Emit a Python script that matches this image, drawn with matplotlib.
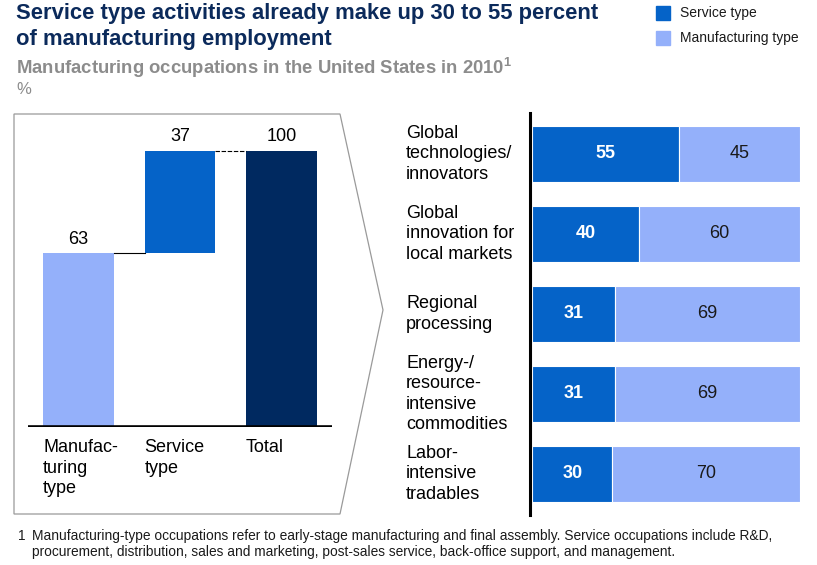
import matplotlib
matplotlib.use("Agg")
import matplotlib.pyplot as plt
from matplotlib.patches import Polygon, Rectangle
from matplotlib.lines import Line2D

plt.rcParams['font.family'] = ['Liberation Sans', 'DejaVu Sans']

# --- data ---
wf_labels = ["Manufac-\nturing\ntype", "Service\ntype", "Total"]
wf_values = [63, 37, 100]

sectors = ["Global\ntechnologies/\ninnovators",
           "Global\ninnovation for\nlocal markets",
           "Regional\nprocessing",
           "Energy-/\nresource-\nintensive\ncommodities",
           "Labor-\nintensive\ntradables"]
service_share = [55, 40, 31, 31, 30]
manuf_share = [45, 60, 69, 69, 70]

# colours
C_SERV = "#0563C8"
C_MANU = "#94B0FA"
C_TOTAL = "#002960"
C_TITLE = "#0B2A5B"
C_GREY = "#8C8C8C"

W, H = 817, 565
fig = plt.figure(figsize=(W / 100, H / 100), dpi=100)


def fx(x):
    return x / W


def fy(y):
    return 1 - y / H


# --- titles ---
fig.text(fx(16), fy(14), "Service type activities already make up 30 to 55 percent",
         fontsize=15.8, fontweight='bold', color=C_TITLE, va='center')
fig.text(fx(16), fy(40), "of manufacturing employment",
         fontsize=15.8, fontweight='bold', color=C_TITLE, va='center')
fig.text(fx(16), fy(68), r"Manufacturing occupations in the United States in 2010$^{\mathregular{1}}$",
         fontsize=13.3, fontweight='bold', color=C_GREY, va='center')
fig.text(fx(16), fy(89), "%", fontsize=12, color=C_GREY, va='center')

# --- legend ---
for yy, col, lab in [(13, C_SERV, "Service type"), (38, C_MANU, "Manufacturing type")]:
    fig.patches.append(Rectangle((fx(656), fy(yy + 7)), 14 / W, 14 / H,
                                 transform=fig.transFigure, color=col))
    fig.text(fx(680), fy(yy), lab, fontsize=10, color='#1a1a1a', va='center')

# --- chevron outline ---
fig.patches.append(Polygon([(fx(14), fy(114)), (fx(340), fy(114)), (fx(383), fy(310)),
                            (fx(340), fy(514)), (fx(14), fy(514))], closed=True,
                           fill=False, edgecolor='#9A9A9A', linewidth=0.9,
                           transform=fig.transFigure))

# --- waterfall ---
ax1 = fig.add_axes([fx(28), fy(427), 304 / W, 300 / H])
ax1.set_xlim(-0.5, 2.5)
ax1.set_ylim(0, 300 / 276 * 100)
bottoms = [0, wf_values[0], 0]
cols = [C_MANU, C_SERV, C_TOTAL]
for i, v in enumerate(wf_values):
    ax1.bar(i, v, bottom=bottoms[i], width=0.70, color=cols[i])
    ax1.text(i, bottoms[i] + v + 2, str(v), ha='center', va='bottom', fontsize=13)
# connectors
ax1.plot([0.35, 0.65], [wf_values[0]] * 2, color='black', lw=0.8)
ax1.plot([1.35, 1.65], [100, 100], color='black', lw=0.8, dashes=(4, 1.5))
ax1.axhline(0, color='black', lw=2.6)
for i, lab in enumerate(wf_labels):
    ax1.text(i - 0.35, -4.5, lab, ha='left', va='top', fontsize=13, linespacing=1.25)
ax1.axis('off')

# --- stacked horizontal bars ---
ax2 = fig.add_axes([fx(532), fy(514), 268 / W, 400 / H])
ax2.set_xlim(0, 100)
ax2.set_ylim(4.5, -0.5)
ypos = list(range(len(sectors)))
ax2.barh(ypos, service_share, height=0.70, color=C_SERV, edgecolor='white', linewidth=0.8)
ax2.barh(ypos, manuf_share, left=service_share, height=0.70, color=C_MANU,
         edgecolor='white', linewidth=0.8)
for y, s, m in zip(ypos, service_share, manuf_share):
    ax2.text(s / 2, y, str(s), ha='center', va='center', color='white',
             fontweight='bold', fontsize=13)
    ax2.text(s + m / 2, y, str(m), ha='center', va='center', color='#1a1a1a', fontsize=13)
    ax2.text(-0.47, y, sectors[y], transform=ax2.get_yaxis_transform(), ha='left',
             va='center', fontsize=13, linespacing=1.25)
ax2.axis('off')
fig.lines.append(Line2D([fx(530), fx(530)], [fy(113), fy(515)], color='black', lw=2.2,
                        transform=fig.transFigure))

# --- footnote ---
fig.text(fx(18), fy(536), "1", fontsize=9.9, va='center', color='#1a1a1a')
fig.text(fx(32), fy(544),
         "Manufacturing-type occupations refer to early-stage manufacturing and final assembly. "
         "Service occupations include R&D,\nprocurement, distribution, sales and marketing, "
         "post-sales service, back-office support, and management.",
         fontsize=9.9, va='center', color='#1a1a1a', linespacing=1.15)

fig.savefig("out.png", dpi=100)
